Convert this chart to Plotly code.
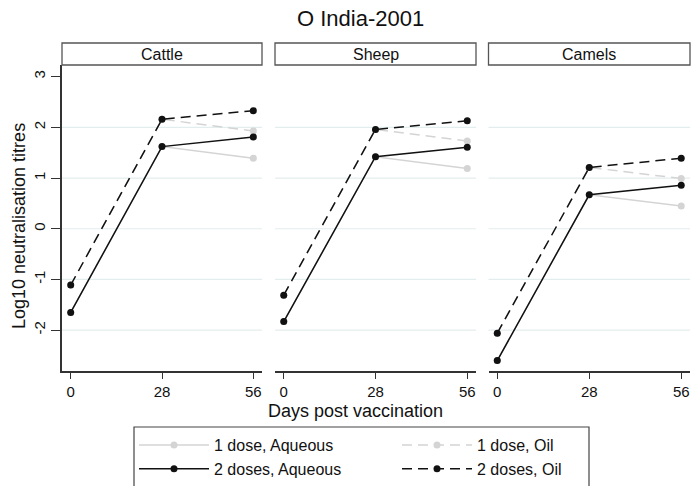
import plotly.graph_objects as go

W, H = 691, 486

days = [0, 28, 56]
species = ["Cattle", "Sheep", "Camels"]

# Log10 neutralisation titres per species (day 0, 28, 56)
cattle_1dose_aq = [-1.65, 1.62, 1.39]
cattle_1dose_oil = [-1.11, 2.16, 1.93]
cattle_2dose_aq = [-1.65, 1.62, 1.81]
cattle_2dose_oil = [-1.11, 2.16, 2.33]

sheep_1dose_aq = [-1.83, 1.42, 1.19]
sheep_1dose_oil = [-1.31, 1.96, 1.73]
sheep_2dose_aq = [-1.83, 1.42, 1.61]
sheep_2dose_oil = [-1.31, 1.96, 2.13]

camels_1dose_aq = [-2.60, 0.67, 0.45]
camels_1dose_oil = [-2.06, 1.21, 0.99]
camels_2dose_aq = [-2.60, 0.67, 0.86]
camels_2dose_oil = [-2.06, 1.21, 1.39]

series_names = ["1 dose, Aqueous", "1 dose, Oil", "2 doses, Aqueous", "2 doses, Oil"]
data = {
    "Cattle": [cattle_1dose_aq, cattle_1dose_oil, cattle_2dose_aq, cattle_2dose_oil],
    "Sheep": [sheep_1dose_aq, sheep_1dose_oil, sheep_2dose_aq, sheep_2dose_oil],
    "Camels": [camels_1dose_aq, camels_1dose_oil, camels_2dose_aq, camels_2dose_oil],
}
y_ticks = [-2, -1, 0, 1, 2, 3]
grid_vals = [-2, -1, 0, 1, 2]
x_ticks = [0, 28, 56]

FONT = "Liberation Sans, Arial, Helvetica, sans-serif"
LIGHT = "#d4d4d4"
DARK = "#111111"
styles = [
    dict(color=LIGHT, dash="solid"),
    dict(color=LIGHT, dash="10px,6px"),
    dict(color=DARK, dash="solid"),
    dict(color=DARK, dash="10px,6px"),
]

def px_x(p):
    return p / W

def px_y(p):
    return 1 - p / H

domains = [(62, 262), (275, 476), (488.5, 690)]
ydom = [px_y(370.7), px_y(65)]

fig = go.Figure()
for i, sp in enumerate(species):
    ax = "" if i == 0 else str(i + 1)
    for j, name in enumerate(series_names):
        st = styles[j]
        fig.add_trace(go.Scatter(
            x=days, y=data[sp][j], mode="lines+markers", name=name,
            line=dict(color=st["color"], width=1.5, dash=st["dash"]),
            marker=dict(color=st["color"], size=7, symbol="circle"),
            xaxis="x" + ax, yaxis="y" + ax,
            legendgroup=name, showlegend=(i == 0),
        ))

layout = dict(
    width=W, height=H,
    margin=dict(l=0, r=0, t=0, b=0),
    paper_bgcolor="white", plot_bgcolor="white",
    font=dict(family=FONT, color="#111111", size=15),
    showlegend=True,
    legend=dict(
        orientation="h", x=px_x(134), y=px_y(428), xanchor="left", yanchor="top",
        borderwidth=0, bgcolor="rgba(0,0,0,0)",
        font=dict(size=16, family=FONT), entrywidth=178, entrywidthmode="pixels",
        itemwidth=70,
        traceorder="normal", tracegroupgap=0,
    ),
)
for i in range(3):
    ax = "" if i == 0 else str(i + 1)
    d0, d1 = domains[i]
    layout["xaxis" + ax] = dict(
        domain=[px_x(d0), px_x(d1)], range=[-2.67, 58.67],
        tickvals=x_ticks, ticktext=[str(v) for v in x_ticks],
        ticks="outside", ticklen=7, tickwidth=1, tickcolor="#333333",
        showline=True, linecolor="#333333", linewidth=1.5,
        showgrid=False, zeroline=False, anchor="y" + ax,
        tickfont=dict(size=15), fixedrange=True,
    )
    layout["yaxis" + ax] = dict(
        domain=ydom, range=[-2.80, 3.23],
        tickvals=y_ticks, ticktext=[str(v) for v in y_ticks],
        ticks="outside", ticklen=9, tickwidth=1, tickcolor="#333333",
        showline=(i == 0), linecolor="#333333", linewidth=1.5,
        showticklabels=(i == 0), showgrid=False, zeroline=False,
        tickangle=-90, tickfont=dict(size=15), anchor="x" + ax,
        visible=(i == 0), fixedrange=True,
    )
fig.update_layout(**layout)

shapes = []
annotations = []
for i, sp in enumerate(species):
    ax = "" if i == 0 else str(i + 1)
    for g in grid_vals:
        shapes.append(dict(type="line", xref="x" + ax + " domain", yref="y" + ax,
                           x0=0, x1=1, y0=g, y1=g, layer="below",
                           line=dict(color="#e4eded", width=1.2)))
    shapes.append(dict(type="rect", xref="x" + ax + " domain", yref="paper",
                       x0=0, x1=1, y0=px_y(65), y1=px_y(43),
                       line=dict(color="#555555", width=1.3), fillcolor="white"))
    annotations.append(dict(text=sp, xref="x" + ax + " domain", yref="paper",
                            x=0.5, y=px_y(54), showarrow=False,
                            font=dict(size=16, family=FONT, color="#111111"),
                            xanchor="center", yanchor="middle"))

# legend frame (extends past the bottom edge as in the reference)
shapes.append(dict(type="rect", xref="paper", yref="paper",
                   x0=px_x(134), x1=px_x(589), y0=px_y(496), y1=px_y(427),
                   line=dict(color="#444444", width=1.2), layer="below"))

annotations.append(dict(text="O India-2001", xref="paper", yref="paper",
                        x=px_x(360), y=px_y(19), showarrow=False,
                        font=dict(size=22, family=FONT, color="#111111"),
                        xanchor="center", yanchor="middle"))
annotations.append(dict(text="Days post vaccination", xref="paper", yref="paper",
                        x=px_x(355), y=px_y(411), showarrow=False,
                        font=dict(size=18, family=FONT, color="#111111"),
                        xanchor="center", yanchor="middle"))
annotations.append(dict(text="Log10 neutralisation titres", xref="paper", yref="paper",
                        x=px_x(19), y=px_y(226), showarrow=False, textangle=-90,
                        font=dict(size=18, family=FONT, color="#111111"),
                        xanchor="center", yanchor="middle"))
fig.update_layout(shapes=shapes, annotations=annotations)

fig.write_html("out.html", config={"displayModeBar": False},
               post_script="document.body.style.margin='0';document.body.style.overflow='hidden';")
